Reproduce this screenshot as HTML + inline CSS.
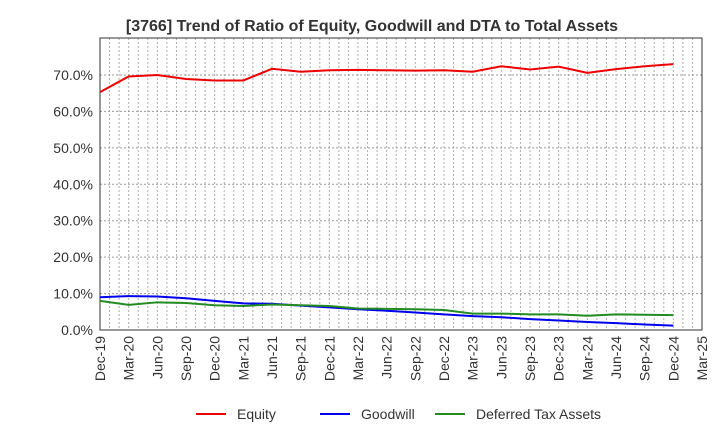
<!DOCTYPE html>
<html><head><meta charset="utf-8"><style>
body{margin:0;background:#fff;font-family:"Liberation Sans",sans-serif}
</style></head><body>
<svg id="c" width="720" height="440" xmlns="http://www.w3.org/2000/svg">
<text x="372" y="31" text-anchor="middle" font-size="16" font-weight="bold" fill="#333">[3766]  Trend of Ratio of Equity, Goodwill and DTA to Total Assets</text>
<g id="grid"></g><g id="axes"></g><g id="series"></g>
<g font-size="14" fill="#333">
<line x1="196" y1="414" x2="226" y2="414" stroke="#e00" stroke-width="2"/><text x="237" y="419">Equity</text>
<line x1="320" y1="414" x2="350" y2="414" stroke="#00e" stroke-width="2"/><text x="361" y="419">Goodwill</text>
<line x1="435" y1="414" x2="465" y2="414" stroke="#228b22" stroke-width="2"/><text x="476" y="419">Deferred Tax Assets</text>
</g>
</svg>
<script>
const categories=["Dec-19","Mar-20","Jun-20","Sep-20","Dec-20","Mar-21","Jun-21","Sep-21","Dec-21","Mar-22","Jun-22","Sep-22","Dec-22","Mar-23","Jun-23","Sep-23","Dec-23","Mar-24","Jun-24","Sep-24","Dec-24","Mar-25"];
const equity=[65.3,69.6,70.0,68.9,68.5,68.5,71.7,70.9,71.3,71.4,71.3,71.2,71.3,70.9,72.4,71.5,72.3,70.6,71.6,72.4,73.0];
const goodwill=[9.0,9.3,9.2,8.7,8.0,7.3,7.2,6.7,6.2,5.7,5.3,4.8,4.3,3.8,3.5,3.0,2.6,2.2,1.9,1.5,1.2];
const dta=[8.0,6.9,7.6,7.4,6.8,6.6,7.0,6.8,6.6,5.9,5.8,5.7,5.5,4.5,4.5,4.3,4.3,3.9,4.3,4.2,4.1];
const yTicks=[0,10,20,30,40,50,60,70];
const X0=100,X1=702,Y0=330,YT=38;
const x=i=>X0+i*(X1-X0)/(categories.length-1);
const y=v=>Y0-v*(Y0-75)/70;
const NS="http://www.w3.org/2000/svg";
function mk(p,t,a){const e=document.createElementNS(NS,t);for(const k in a)e.setAttribute(k,a[k]);p.appendChild(e);return e;}
const g=document.getElementById('grid'),ax=document.getElementById('axes'),s=document.getElementById('series');
for(let m=1;m<(categories.length-1)*3;m++){const xx=X0+m*(X1-X0)/((categories.length-1)*3);
const l=mk(g,'line',{x1:xx,x2:xx,y1:YT,y2:Y0,stroke:'#999','stroke-dasharray':'2,2','stroke-width':1,'stroke-opacity':0.8});

}
yTicks.forEach(v=>{if(v>0){const l=mk(g,'line',{x1:X0,x2:X1,y1:y(v),y2:y(v),stroke:'#999','stroke-dasharray':'2,2'});

}
const t=mk(ax,'text',{x:X0-7,y:y(v)+5,'text-anchor':'end','font-size':14,fill:'#333'});t.textContent=v.toFixed(1)+'%';

});
const fr=mk(ax,'rect',{x:X0,y:YT,width:X1-X0,height:Y0-YT,fill:'none',stroke:'#333'});


categories.forEach((c,i)=>{const t=mk(ax,'text',{transform:`translate(${x(i)+5},${Y0+6}) rotate(-90)`,'text-anchor':'end','font-size':14,fill:'#333'});t.textContent=c;

});
[[equity,'#e00','equity-line'],[goodwill,'#00e','goodwill-line'],[dta,'#228b22','dta-line']].forEach(([d,col,n])=>{
const p=mk(s,'polyline',{points:d.map((v,i)=>x(i)+','+y(v)).join(' '),fill:'none',stroke:col,'stroke-width':2});

});
</script>
</body></html>
